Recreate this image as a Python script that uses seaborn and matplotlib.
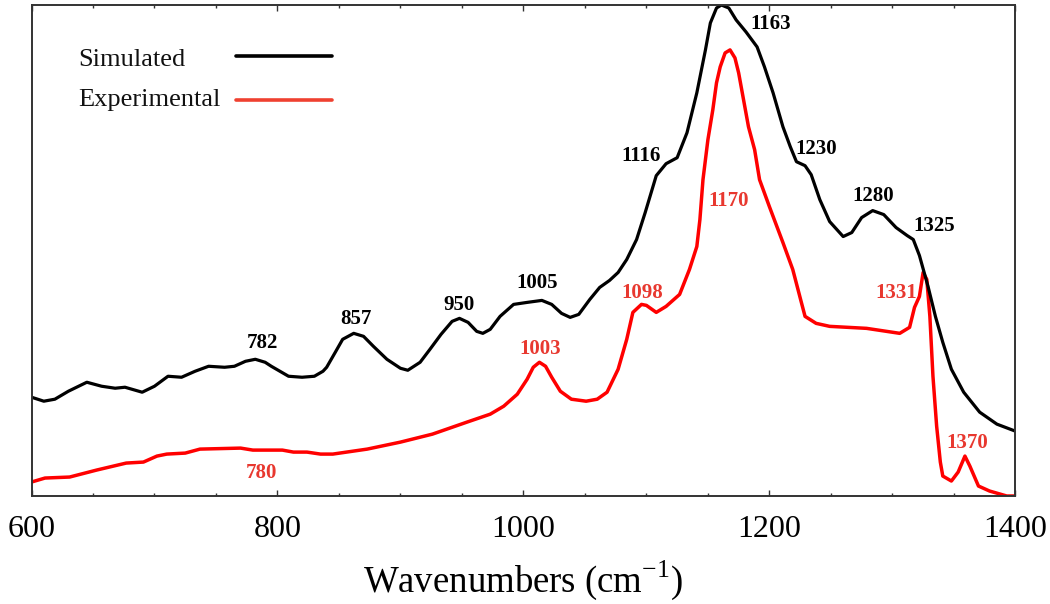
import matplotlib
matplotlib.use('Agg')
import matplotlib.pyplot as plt
from matplotlib.lines import Line2D
from matplotlib.ticker import MultipleLocator
import seaborn as sns
import pandas as pd


# simulated spectrum (wavenumber, intensity in a.u.)
sim_wn = [600, 610, 619, 630, 645, 657, 668, 676, 690, 700, 711, 722, 733, 744, 757,
          765, 774, 782, 790, 795, 809, 820, 830, 837,
          840, 847, 853, 862, 870, 878, 889, 900, 906, 916, 924, 933, 942, 948,
          955, 962, 967, 973, 981, 992, 1003, 1015, 1023, 1031, 1038, 1045, 1054, 1062,
          1070, 1077, 1084, 1092, 1099, 1108, 1116, 1125, 1133, 1141, 1148, 1152, 1157,
          1161, 1167, 1173, 1181, 1190, 1196, 1203, 1211, 1217, 1222, 1229, 1234, 1241,
          1249, 1260, 1267, 1275, 1284, 1293, 1303, 1312, 1317, 1322, 1329, 1335, 1341,
          1348, 1358, 1371, 1385, 1400]
sim_int = [99, 95, 97, 105, 114, 110, 108, 109, 104, 110, 120, 119, 125, 130, 129,
           130, 135, 137, 134, 130, 120, 119, 120, 125,
           129, 144, 157, 163, 160, 150, 137, 128, 126, 134, 147, 162, 175, 178,
           174, 165, 163, 167, 180, 192, 194, 196, 192, 183, 179, 182, 197, 209,
           216, 224, 237, 257, 284, 321, 333, 339, 364, 404, 447, 474, 489,
           492, 489, 477, 465, 450, 430, 404, 370, 350, 335, 331, 322, 297,
           275, 260, 264, 279, 286, 282, 269, 261, 257, 241, 210, 180, 154,
           127, 104, 84, 72, 65]

# experimental spectrum
exp_wn = [600, 611, 631, 653, 677, 691, 702, 710, 725, 737, 770, 780, 804, 813, 824,
          835, 845, 873, 900, 926, 954, 973, 984, 995, 1003, 1008, 1013, 1018, 1023, 1030,
          1039, 1051, 1060, 1068, 1077, 1084, 1089, 1096, 1100, 1108, 1116, 1127, 1135,
          1141, 1143.5, 1146, 1150, 1154, 1157, 1160, 1164, 1168, 1172, 1175, 1179, 1183,
          1188, 1192, 1200, 1211, 1219, 1226, 1229, 1238, 1249, 1279, 1306, 1314, 1318,
          1322, 1325, 1328, 1330.5, 1333, 1336, 1339, 1341, 1348, 1353.5, 1359, 1363,
          1370, 1379, 1393, 1400]
exp_int = [14, 18, 19, 26, 33, 34, 40, 42, 43, 47, 48, 46, 46, 44, 44,
           42, 42, 47, 54, 62, 74, 82, 90, 102, 117, 129, 134, 130, 119, 105,
           97, 95, 97, 104, 127, 157, 184, 192, 191, 184, 190, 202, 227,
           250, 277, 317, 357, 387, 414, 430, 444, 447, 439, 424, 397, 370,
           347, 317, 290, 254, 227, 194, 180, 173, 170, 168, 163, 169, 189,
           200, 224, 217, 180, 120, 70, 34, 20, 15, 24, 40, 30,
           10, 5, 0, 0]

# peak labels
sim_peaks = ['782', '857', '950', '1005', '1116', '1163', '1230', '1280', '1325']
sim_peak_pos = [(788, 153), (864, 177), (948, 191), (1011, 213), (1096, 341),
                (1201, 473), (1238, 348), (1284, 301), (1334, 271)]
exp_peaks = ['780', '1003', '1098', '1170', '1331', '1370']
exp_peak_pos = [(787, 23), (1014, 147), (1097, 203), (1167, 296), (1303, 203), (1361, 53)]

legend_labels = ['Simulated', 'Experimental']


sns.set_theme(style='white')
plt.rcParams['font.family'] = ['Liberation Serif', 'DejaVu Serif']
plt.rcParams['mathtext.fontset'] = 'custom'
plt.rcParams['mathtext.rm'] = 'Liberation Serif'
plt.rcParams['text.color'] = 'black'
plt.rcParams['axes.labelcolor'] = 'black'
plt.rcParams['xtick.color'] = 'black'

df_sim = pd.DataFrame({'wn': sim_wn, 'intensity': sim_int})
df_exp = pd.DataFrame({'wn': exp_wn, 'intensity': exp_int})

fig = plt.figure(figsize=(10.5, 6.04), dpi=100)
ax = fig.add_axes([0.030, 0.1788, 0.937, 0.8129])

sns.lineplot(data=df_exp, x='wn', y='intensity', ax=ax, color='#ff0000',
             linewidth=2.5, estimator=None, sort=False)
sns.lineplot(data=df_sim, x='wn', y='intensity', ax=ax, color='black',
             linewidth=2.3, estimator=None, sort=False)

for txt, (x, y) in zip(sim_peaks, sim_peak_pos):
    ax.text(x, y, txt, ha='center', va='center', fontsize=15, fontweight='bold', color='black')
for txt, (x, y) in zip(exp_peaks, exp_peak_pos):
    ax.text(x, y, txt, ha='center', va='center', fontsize=15, fontweight='bold', color='#e8382f')

ax.set_xlim(600, 1400)
ax.set_ylim(0, 492)
ax.set_yticks([])
ax.xaxis.set_major_locator(MultipleLocator(200))
ax.xaxis.set_minor_locator(MultipleLocator(50))
ax.tick_params(axis='x', which='both', direction='in', top=True, bottom=True,
               labelsize=23, pad=14, color='#333333', labelcolor='black')
ax.tick_params(axis='x', which='major', length=4, width=1)
ax.tick_params(axis='x', which='minor', length=2.5, width=1)
ax.set_xlabel(r'Wavenumbers (cm$^{\mathregular{-1}}$)', fontsize=26.5, labelpad=10)
ax.set_ylabel('')
for s in ax.spines.values():
    s.set_color('#333333')
    s.set_linewidth(1.4)

# legend drawn by hand: text left-aligned, sample line to the right
for label, col, ty, ly in zip(legend_labels, ['black', '#ef4130'], [0.876, 0.794], [0.896, 0.8065]):
    ax.text(0.0473, ty, label, transform=ax.transAxes, fontsize=19,
            ha='left', va='baseline', color='#111111')
    ax.add_line(Line2D([0.2078, 0.3054], [ly, ly], transform=ax.transAxes,
                       color=col, linewidth=2.6))

fig.savefig('out.png', dpi=100)
